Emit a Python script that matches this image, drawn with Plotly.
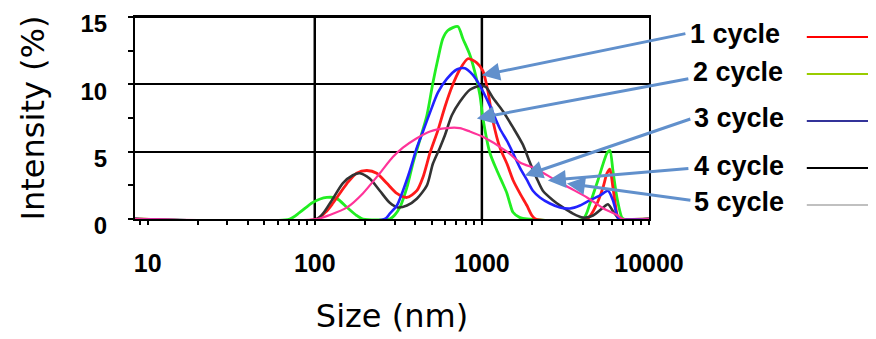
import numpy as np
import plotly.graph_objects as go

# ---------------- data ----------------
series_names = ["1 cycle", "2 cycle", "3 cycle", "4 cycle", "5 cycle"]

red_size = [8.4, 103, 118, 128, 156, 178, 205, 235, 270, 310, 356, 408, 444, 489, 546, 600, 661, 738, 824, 933,
            1014, 1086, 1164, 1282, 1413, 1535, 1690, 1860, 1993, 2100, 4257, 4885, 5309, 5610, 5834, 6081, 6516, 6699, 10000]
red_int = [0, 0, 0.6, 1.15, 2.65, 3.4, 3.6, 3.4, 2.65, 1.9, 1.6, 2.1, 3.1, 4.9, 6.6, 8.3, 9.8, 11.1, 11.9, 11.6,
           11.0, 9.5, 7.3, 5.3, 4.1, 2.9, 1.9, 1.0, 0.26, 0, 0, 1.15, 2.35, 3.4, 3.7, 2.35, 0.1, 0, 0]

green_size = [8.4, 70.8, 81.3, 97.3, 118, 135, 156, 178, 194, 281, 301, 323, 356, 386, 426, 469, 509, 546, 584,
              625, 718, 769, 847, 908, 973, 1014, 1117, 1230, 1337, 1413, 1472, 1535, 1690, 1860, 4027, 4436, 4955,
              5610, 5834, 6081, 6427, 6887, 7070, 10000]
green_int = [0, 0, 0.49, 1.23, 1.6, 1.53, 0.86, 0.26, 0, 0, 0.3, 0.86, 2.35, 4.1, 5.9, 7.7, 10.1, 11.9, 13.4,
             14.0, 14.3, 13.4, 12.2, 10.9, 9.2, 7.5, 4.9, 3.6, 2.6, 1.9, 1.15, 0.5, 0.1, 0, 0, 1.15, 2.9,
             4.9, 5.1, 3.6, 1.6, 0.1, 0, 0]

blue_size = [8.4, 262, 281, 310, 337, 371, 408, 444, 489, 546, 617, 708, 791, 883, 973, 1117, 1282, 1413, 1535,
             1690, 1860, 2020, 2224, 2553, 2931, 3365, 3864, 4436, 5093, 5680, 6081, 6516, 6699, 10000]
blue_int = [0, 0, 0.4, 1.0, 2.1, 3.6, 5.3, 6.5, 7.9, 9.4, 10.4, 11.1, 11.2, 10.7, 9.9, 8.4, 6.7, 5.8, 4.9,
            3.8, 2.9, 2.1, 1.6, 1.15, 0.86, 0.78, 1.0, 1.4, 1.75, 2.1, 1.4, 0.1, 0, 0]

black_size = [8.4, 103, 123, 147, 169, 186, 213, 245, 281, 314, 356, 408, 469, 509, 561, 600, 661, 738, 847, 973,
              1057, 1164, 1337, 1535, 1762, 1938, 2133, 2317, 2661, 3055, 3508, 4027, 4624, 5236, 5680, 6081,
              6516, 6699, 10000]
black_int = [0, 0, 1.15, 2.65, 3.25, 3.4, 3.0, 2.1, 1.2, 0.86, 1.0, 1.5, 2.5, 4.1, 5.3, 6.2, 7.7, 8.7, 9.6, 9.9,
             9.8, 9.0, 8.0, 6.8, 5.5, 4.2, 3.0, 2.1, 1.4, 0.86, 0.4, 0.1, 0.26, 0.78, 1.1, 0.6,
             0.1, 0, 0]

pink_size = [8.4, 103, 123, 156, 194, 245, 293, 337, 408, 489, 617, 738, 847, 1014, 1413, 1690, 2133, 2661,
             3365, 4257, 5309, 6427, 6982, 10000]
pink_int = [0, 0, 0.3, 0.86, 1.9, 3.4, 4.6, 5.3, 6.0, 6.5, 6.75, 6.75, 6.5, 6.1, 5.0, 4.2, 3.7, 3.0,
            2.3, 1.6, 0.8, 0.3, 0, 0]

x_tick_vals = [10, 100, 1000, 10000]
x_tick_text = ["10", "100", "1000", "10000"]
y_tick_vals = [0, 5, 10, 15]
y_tick_text = ["0", "5", "10", "15"]

# arrow targets (size nm, intensity %) for each label
arrow_target_size = [1000, 933, 1807, 2483, 3228]
arrow_target_int = [10.67, 7.47, 3.23, 2.86, 2.64]

# ---------------- styles / layout ----------------
curve_colors = {"green": "#22EE22", "red": "#FF1A1A", "black": "#333333", "blue": "#2222FF", "pink": "#FF3399"}
legend_colors = ["#FF0000", "#99CC00", "#333399", "#000000", "#C0C0C0"]
arrow_color = "#6190CC"

# the page body adds an 8px offset; compensate so the plot lands where the reference has it
OFF = 8
W, H = 876 - OFF, 339 - OFF

fig = go.Figure()
traces = [
    ("2 cycle", green_size, green_int, curve_colors["green"], 2.8),
    ("1 cycle", red_size, red_int, curve_colors["red"], 2.8),
    ("4 cycle", black_size, black_int, curve_colors["black"], 2.6),
    ("3 cycle", blue_size, blue_int, curve_colors["blue"], 2.6),
    ("5 cycle", pink_size, pink_int, curve_colors["pink"], 2.2),
]
for name, xs, ys, col, w in traces:
    fig.add_trace(go.Scatter(x=xs, y=ys, mode="lines", name=name,
                             line=dict(color=col, width=w, shape="spline", smoothing=0.7),
                             showlegend=False))

# vertical grid lines at 100 and 1000
for gx in [100, 1000]:
    fig.add_shape(type="line", xref="x", yref="y domain", x0=gx, x1=gx, y0=0, y1=1,
                  line=dict(color="black", width=2.5), layer="below")
# top border of the plot box
fig.add_shape(type="line", xref="x domain", yref="y domain", x0=0, x1=1, y0=1, y1=1,
              line=dict(color="black", width=2))

# legend-like labels, line samples and arrows
label_x = [1.076, 1.082, 1.084, 1.084, 1.084]
label_y = [0.916, 0.728, 0.50, 0.262, 0.084]
tail_dx = [205, 213, 167, 142, 125]
tail_dy = [-42, -40, -57, -12, 17]
sample_y = [0.901, 0.718, 0.485, 0.252, 0.069]

for i, name in enumerate(series_names):
    fig.add_annotation(x=np.log10(arrow_target_size[i]), y=arrow_target_int[i], xref="x", yref="y",
                       ax=tail_dx[i], ay=tail_dy[i], axref="pixel", ayref="pixel",
                       text="", showarrow=True, arrowhead=2, arrowsize=1.2, arrowwidth=3,
                       arrowcolor=arrow_color)
    fig.add_annotation(x=label_x[i], y=label_y[i], xref="paper", yref="paper",
                       text=name, showarrow=False, xanchor="left", yanchor="middle",
                       font=dict(family="Liberation Sans", size=27, color="black", weight="bold"))
    fig.add_shape(type="line", xref="paper", yref="paper", x0=1.307, x1=1.46,
                  y0=sample_y[i], y1=sample_y[i], line=dict(color=legend_colors[i], width=2))

fig.update_layout(
    width=W, height=H,
    margin=dict(l=135 - OFF, r=227, t=17 - OFF, b=120, autoexpand=False),
    paper_bgcolor="white", plot_bgcolor="white",
    xaxis=dict(type="log", range=[np.log10(8.4), 4], tickmode="array", tickvals=x_tick_vals,
               ticktext=x_tick_text, showgrid=False, showline=True, linecolor="black", linewidth=2,
               mirror=True, ticks="outside", ticklen=4, tickwidth=2, tickcolor="black",
               ticklabelstandoff=17, automargin=False, ticklabeloverflow="allow",
               minor=dict(ticks="outside", ticklen=4, tickwidth=2, tickcolor="black", dtick="D1",
                          showgrid=False),
               tickfont=dict(family="Liberation Sans", size=25, color="black", weight="bold"),
               title=dict(text="Size (nm)", font=dict(family="DejaVu Sans", size=32, color="black"),
                          standoff=29),
               zeroline=False),
    yaxis=dict(range=[0, 15], tickmode="array", tickvals=y_tick_vals, ticktext=y_tick_text,
               showgrid=True, gridcolor="black", gridwidth=1.5, showline=True, linecolor="black",
               linewidth=2, mirror=True, ticks="outside", ticklen=5, tickwidth=2, tickcolor="black",
               ticklabelstandoff=16, ticklabelshift=7, automargin=False, ticklabeloverflow="allow",
               minor=dict(ticks="outside", ticklen=5, tickwidth=2, tickcolor="black", dtick=2.5,
                          showgrid=False),
               tickfont=dict(family="Liberation Sans", size=24, color="black", weight="bold"),
               title=dict(text="Intensity (%)", font=dict(family="DejaVu Sans", size=32, color="black"),
                          standoff=26),
               zeroline=False),
)

fig.write_html("out.html")
